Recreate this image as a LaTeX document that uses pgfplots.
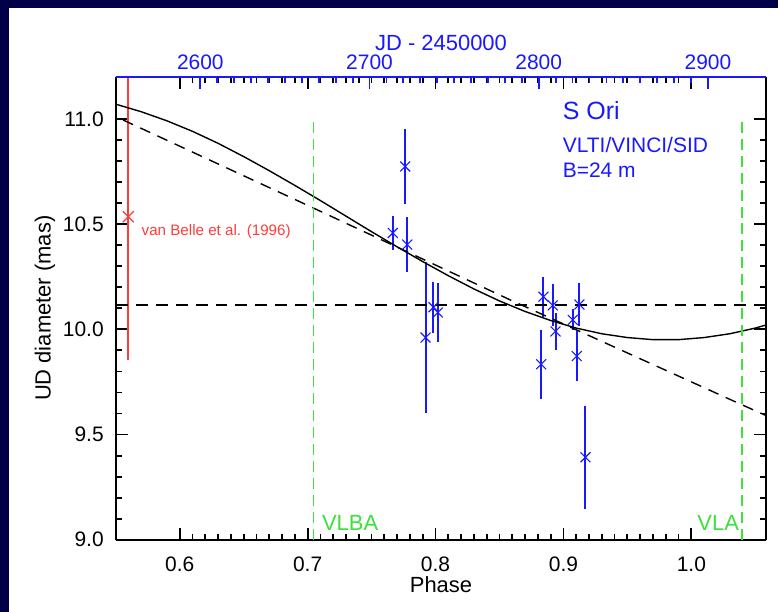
\documentclass[border=0pt]{standalone}
\usepackage{fontspec}
\setmainfont{Liberation Sans}
\usepackage{pgfplots}
\pgfplotsset{compat=1.18}
\definecolor{navybg}{RGB}{0,0,72}
\definecolor{dblue}{RGB}{25,25,255}
\definecolor{dred}{RGB}{255,60,60}
\definecolor{vgreen}{RGB}{60,225,60}

\pgfplotsset{
  every tick label/.append style={font=\fontsize{10.5}{12}\selectfont},
  every axis label/.append style={font=\fontsize{11}{13}\selectfont},
  /pgf/number format/assume math mode=true,
  phaseframe/.style={
    at={(58pt,36pt)}, anchor=south west,
    scale only axis, width=326pt, height=232pt,
    xmin=0.55, xmax=1.0586, ymin=9.0, ymax=11.2,
    xtick={0.6,0.7,0.8,0.9,1.0}, minor x tick num=9,
    ytick={9.0,9.5,10.0,10.5,11.0}, minor y tick num=4,
    tick align=inside,
    major tick length=6pt, minor tick length=3pt,
    axis line style={line width=0.85pt, black},
    every major tick/.append style={black, line width=0.9pt},
    every minor tick/.append style={black, line width=0.9pt},
  },
}

\begin{document}
\begin{tikzpicture}
\fill[navybg] (0pt,0pt) rectangle (390pt,306.5pt);
\fill[white] (4.5pt,0pt) rectangle (390pt,302.5pt);

% mirrored ticks on the top and right edges
\begin{axis}[phaseframe,
  axis x line*=top, axis y line*=right,
  xticklabels={}, yticklabels={},
]
\addplot[draw=none] coordinates {(0.8,10)};
\end{axis}

% phase axis (bottom, left) with the data
\begin{axis}[phaseframe,
  axis x line*=bottom, axis y line*=left,
  xticklabel style={yshift=-5pt, /pgf/number format/fixed,
    /pgf/number format/fixed zerofill, /pgf/number format/precision=1},
  yticklabel style={xshift=-2.5pt, /pgf/number format/fixed,
    /pgf/number format/fixed zerofill, /pgf/number format/precision=1},
  xlabel={Phase},
  xlabel style={at={(axis description cs:0.5,-0.097)}, anchor=center},
  ylabel={UD diameter (mas)},
  ylabel style={at={(axis description cs:-0.109,0.5)}, anchor=center, rotate=0},
]
% van Belle et al. (1996)
\addplot[only marks, mark=x, mark size=3.9pt, color=dred,
  mark options={line width=0.6pt},
  error bars/.cd, y dir=both, y explicit, error mark=none,
  error bar style={line width=1pt, dred}]
  coordinates {(0.5598,10.535) +- (0,0.68)};

% VLTI/VINCI/SID
\addplot[only marks, mark=x, mark size=3.5pt, color=dblue,
  mark options={line width=0.55pt},
  error bars/.cd, y dir=both, y explicit, error mark=none,
  error bar style={line width=1pt, dblue}]
  table[x=p, y=d, y error=e] {
p d e
0.7666 10.458 0.08
0.7763 10.774 0.18
0.7779 10.403 0.13
0.7922 9.961 0.36
0.7984 10.105 0.12
0.8018 10.080 0.14
0.8826 9.834 0.165
0.8844 10.155 0.095
0.8916 10.114 0.10
0.8938 9.990 0.09
0.9073 10.045 0.05
0.9104 9.873 0.12
0.9125 10.118 0.10
0.9172 9.392 0.245
};

% model curves
\addplot[black, line width=0.7pt] coordinates {
(0.550,11.070) (0.570,11.034) (0.590,10.991) (0.610,10.941) (0.630,10.884)
(0.650,10.821) (0.670,10.754) (0.690,10.684) (0.710,10.612) (0.730,10.538)
(0.750,10.464) (0.770,10.392) (0.790,10.322) (0.810,10.255) (0.830,10.192)
(0.850,10.135) (0.870,10.085) (0.890,10.042) (0.910,10.006) (0.930,9.979)
(0.950,9.961) (0.970,9.951) (0.990,9.951) (1.010,9.961) (1.030,9.979)
(1.050,10.006) (1.0586,10.021)};
\addplot[black, line width=0.7pt, dash pattern=on 5.5pt off 4pt] coordinates {
(0.5557,10.995) (0.704,10.578) (0.858,10.141) (1.039,9.643) (1.0586,9.590)};
\addplot[black, line width=0.7pt, dash pattern=on 6pt off 4pt] coordinates {
(0.55,10.115) (1.0586,10.115)};

% VLBA / VLA epochs
\addplot[vgreen, line width=0.8pt, dash pattern=on 5.5pt off 3pt] coordinates {
(0.7047,9.0) (0.7047,11.0)};
\addplot[vgreen, line width=0.8pt, dash pattern=on 5.5pt off 3pt] coordinates {
(1.0398,9.0) (1.0398,11.0)};

\node[vgreen, anchor=west, inner sep=0pt, font=\fontsize{11}{13}\selectfont]
  at (axis cs:0.711,9.08) {VLBA};
\node[vgreen, anchor=east, inner sep=0pt, font=\fontsize{11}{13}\selectfont]
  at (axis cs:1.0375,9.08) {VLA};
\node[dred, anchor=west, inner sep=0pt, font=\fontsize{7.6}{9}\selectfont]
  at (axis cs:0.570,10.464) {van Belle et al. (1996)};
\node[dblue, anchor=west, inner sep=0pt, font=\fontsize{12.5}{14}\selectfont]
  at (axis cs:0.8992,11.038) {S Ori};
\node[dblue, anchor=west, inner sep=0pt, font=\fontsize{10.5}{12}\selectfont]
  at (axis cs:0.8992,10.877) {VLTI/VINCI/SID};
\node[dblue, anchor=west, inner sep=0pt, font=\fontsize{10.5}{12}\selectfont]
  at (axis cs:0.8992,10.758) {B=24 m};
\end{axis}

% JD axis (top)
\begin{axis}[
  at={(58pt,36pt)}, anchor=south west,
  scale only axis, width=326pt, height=232pt,
  xmin=2550, xmax=2934.5, ymin=0, ymax=1,
  axis x line*=top, hide y axis,
  xtick={2600,2700,2800,2900}, minor x tick num=9,
  scaled x ticks=false,
  xticklabel style={dblue, /pgf/number format/fixed,
    /pgf/number format/1000 sep={}},
  tick align=inside,
  major tick length=6pt, minor tick length=3pt,
  axis line style={line width=0.85pt, dblue},
  every major tick/.append style={dblue, line width=0.9pt},
  every minor tick/.append style={dblue, line width=0.9pt},
  xlabel={JD - 2450000},
  xlabel style={dblue, at={(axis description cs:0.5,1.073)}, anchor=center},
]
\addplot[draw=none] coordinates {(2600,0.5)};
\end{axis}
\end{tikzpicture}
\end{document}
